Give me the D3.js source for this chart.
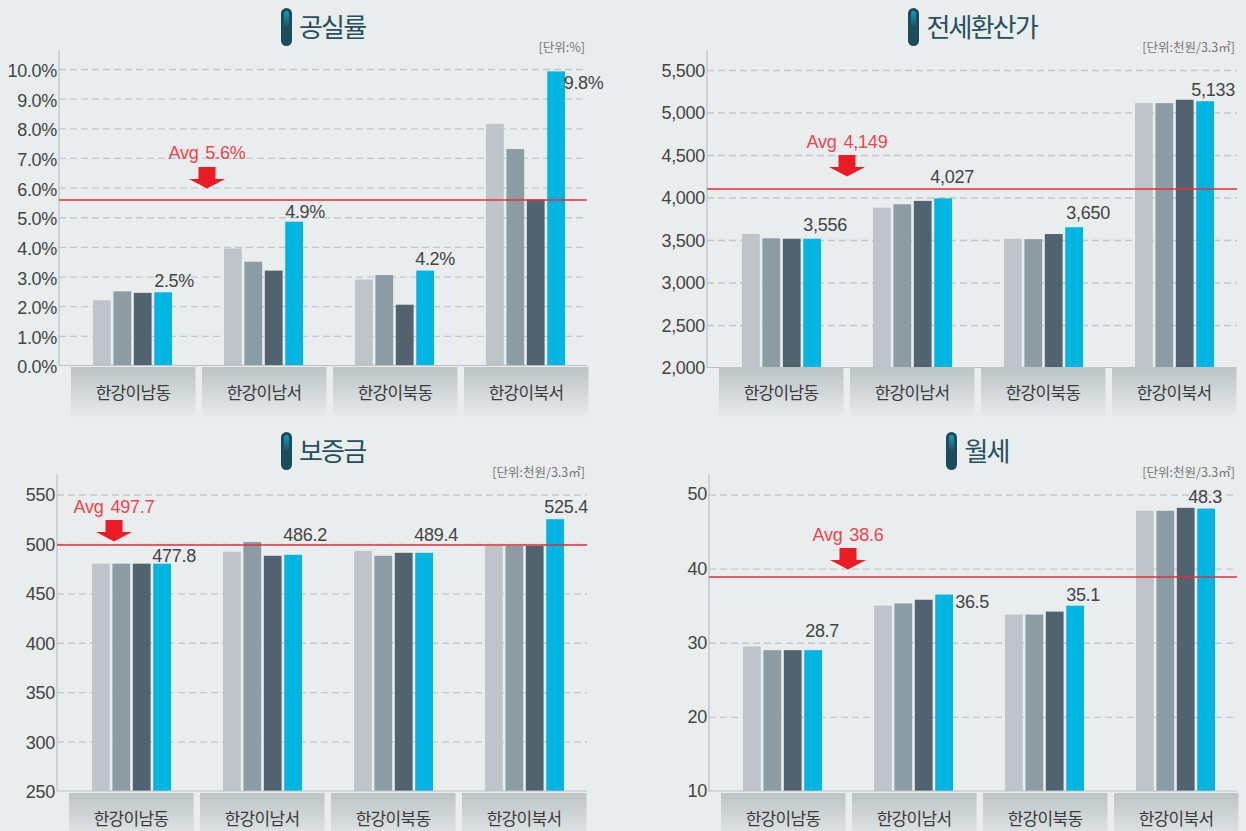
<!DOCTYPE html>
<html><head><meta charset="utf-8">
<script src="https://cdn.jsdelivr.net/npm/d3@7"></script>
<style>
html,body{margin:0;padding:0;background:#e9edee;overflow:hidden}
svg{display:block}
text{font-family:"Liberation Sans","Noto Sans CJK KR",sans-serif}
.kr{font-family:"Noto Sans CJK KR",sans-serif}
</style></head><body>
<svg id="c" width="1246" height="831"></svg>
<script>
const categories = ["한강이남동","한강이남서","한강이북동","한강이북서"];
const titles = ["공실률","전세환산가","보증금","월세"];
const units = ["[단위:%]","[단위:천원/3.3㎡]","[단위:천원/3.3㎡]","[단위:천원/3.3㎡]"];

const vacancy = [[2.2,2.5,2.45,2.47],[3.95,3.5,3.2,4.85],[2.9,3.05,2.05,3.2],[8.15,7.3,5.6,9.92]];
const rentEq  = [[3570,3520,3515,3515],[3880,3920,3960,3990],[3515,3510,3570,3650],[5110,5110,5150,5133]];
const deposit = [[480,480,480,480],[492,502,488,489],[493,488,491,491],[498,498,498,525]];
const monthly = [[29.5,29,29,29],[35,35.3,35.8,36.5],[33.8,33.8,34.2,35],[47.8,47.8,48.2,48.1]];

const vacancyTicks = [0,1,2,3,4,5,6,7,8,9,10];
const rentEqTicks  = [2000,2500,3000,3500,4000,4500,5000,5500];
const depositTicks = [250,300,350,400,450,500,550];
const monthlyTicks = [10,20,30,40,50];

const avgLines  = [5.58,4100,498.5,38.9];
const avgLabels = ["Avg 5.6%","Avg 4,149","Avg 497.7","Avg 38.6"];
const vacancyLabels = ["2.5%","4.9%","4.2%","9.8%"];
const rentEqLabels  = ["3,556","4,027","3,650","5,133"];
const depositLabels = ["477.8","486.2","489.4","525.4"];
const monthlyLabels = ["28.7","36.5","35.1","48.3"];

const barColors = ["#bdc4ca","#8c9ca5","#50636e","#00b5e2"];
const bg = "#e9edee";

// layout of each panel (pixels, not data)
const panels = [
 {values:vacancy,ticks:vacancyTicks,labels:vacancyLabels,fmt:d=>d.toFixed(1)+"%",dom:[0,10],
  axisX:59,right:587,top:50,y0:365.5,y1:69,bar0:93,box0:71,boxY:367,tickDy:1,
  pill:281,titleX:299,titleY:37,unitEnd:585,unitY:52,
  arrowX:207,arrowTop:167,avgBase:159,
  lab:[[11,-5],[11,-4],[10,-6],[27.5,18]]},
 {values:rentEq,ticks:rentEqTicks,labels:rentEqLabels,fmt:d3.format(","),dom:[2000,5500],
  axisX:707,right:1237,top:50,y0:367.5,y1:70,bar0:742,box0:719,boxY:367,tickDy:0,
  pill:908,titleX:926.5,titleY:37,unitEnd:1235,unitY:52,
  arrowX:847,arrowTop:155,avgBase:148,
  lab:[[13,-8],[9,-15],[14,-8],[8,-5]]},
 {values:deposit,ticks:depositTicks,labels:depositLabels,fmt:d=>d,dom:[250,550],
  axisX:57,right:587,top:474,y0:791,y1:494.5,bar0:92,box0:69,boxY:793,tickDy:0,
  pill:281,titleX:299,titleY:461,unitEnd:585,unitY:477,
  arrowX:114,arrowTop:520,avgBase:513,
  lab:[[12,-2],[12,-14],[12,-12],[11,-6]]},
 {values:monthly,ticks:monthlyTicks,labels:monthlyLabels,fmt:d=>d,dom:[10,50],
  axisX:709,right:1237,top:474,y0:791,y1:494.5,bar0:743,box0:721,boxY:793,tickDy:-1,
  pill:946,titleX:964.5,titleY:461,unitEnd:1235,unitY:477,
  arrowX:848,arrowTop:548,avgBase:541,
  lab:[[9,-13],[28,13],[8,-5],[-1,-6]]}
];

const svg = d3.select("#c");
svg.append("rect").attr("width",1246).attr("height",831).attr("fill",bg);
const defs = svg.append("defs");
const boxG = defs.append("linearGradient").attr("id","boxG").attr("x1",0).attr("y1",0).attr("x2",0).attr("y2",1);
boxG.append("stop").attr("offset",0).attr("stop-color","#bcc3c6");
boxG.append("stop").attr("offset",1).attr("stop-color","#e6eaeb");
const pillG = defs.append("linearGradient").attr("id","pillG").attr("x1",0).attr("y1",0).attr("x2",0).attr("y2",1);
pillG.append("stop").attr("offset",0).attr("stop-color","#0f9fc0");
pillG.append("stop").attr("offset",.55).attr("stop-color","#1b6f86");
pillG.append("stop").attr("offset",1).attr("stop-color","#1b6f86").attr("stop-opacity",0);

panels.forEach((p,pi)=>{
  const g = svg.append("g");
  const y = d3.scaleLinear().domain(p.dom).range([p.y0,p.y1]);
  const x = d3.scaleBand().domain(categories).range([0,524]).paddingInner(0).paddingOuter(0);
  const sub = d3.scaleBand().domain(d3.range(4)).range([0,79]).paddingInner(0.13).paddingOuter(0);

  // grid + tick labels
  const ax = g.append("g").attr("transform",`translate(${p.axisX},0)`)
    .call(d3.axisLeft(y).tickValues(p.ticks).tickFormat(p.fmt).tickSize(0).tickPadding(2));
  ax.select(".domain").remove();
  ax.selectAll("text").attr("font-size",18).attr("fill","#444").attr("letter-spacing","-0.3").attr("dy","0.36em").attr("y",p.tickDy);
  ax.selectAll(".tick").filter(d=>d!==p.dom[0]).append("line")
    .attr("x1",0).attr("x2",p.right-p.axisX)
    .attr("stroke","#c4c8ca").attr("stroke-width",1.3).attr("stroke-dasharray","7 4");

  // bars
  const grp = g.selectAll(".grp").data(p.values).join("g")
    .attr("transform",(d,i)=>`translate(${p.bar0+x(categories[i])},0)`);
  grp.selectAll("rect").data(d=>d).join("rect")
    .attr("x",(d,i)=>sub(i)).attr("width",sub.bandwidth())
    .attr("y",d=>y(d)).attr("height",d=>p.y0-y(d))
    .attr("fill",(d,i)=>barColors[i]);

  // axis lines
  g.append("path").attr("d",`M${p.axisX},${p.top}V${p.y0}H${p.right}`)
    .attr("fill","none").attr("stroke","#bcc0c3").attr("stroke-width",1.2);

  // category boxes
  const boxes = g.selectAll(".box").data(categories).join("g")
    .attr("transform",d=>`translate(${p.box0+x(d)},${p.boxY})`);
  boxes.append("rect").attr("width",124.5).attr("height",50).attr("fill","url(#boxG)");
  boxes.append("text").attr("class","kr").attr("x",62).attr("y",32).attr("text-anchor","middle")
    .attr("font-size",17).attr("fill","#3a3a3a").attr("letter-spacing","-0.7").text(d=>d);

  // average line
  const ay = Math.round(y(avgLines[pi]));
  g.append("line").attr("x1",p.axisX).attr("x2",p.right).attr("y1",ay).attr("y2",ay)
    .attr("stroke","#ee2a33").attr("stroke-width",1.6);
  g.append("text").attr("x",p.arrowX).attr("y",p.avgBase).attr("text-anchor","middle")
    .attr("font-size",18).attr("fill","#f0444c").attr("word-spacing","2").attr("letter-spacing","-0.2").text(avgLabels[pi]);
  const a=p.arrowX,t=p.arrowTop;
  g.append("path").attr("d",`M${a-8.5},${t}h17v12h9.5l-18,9.5l-18,-9.5h9.5z`).attr("fill","#ed1c24");

  // value labels
  p.labels.forEach((s,i)=>{
    const v=p.values[i][3];
    g.append("text")
      .attr("x",p.bar0+x(categories[i])+sub(3)+sub.bandwidth()/2+p.lab[i][0])
      .attr("y",y(v)+p.lab[i][1])
      .attr("text-anchor","middle").attr("font-size",18).attr("fill","#444").attr("letter-spacing","-0.3").text(s);
  });

  // title
  const py=p.titleY-29;
  g.append("rect").attr("x",p.pill).attr("y",py).attr("width",11).attr("height",38).attr("rx",5.5).attr("fill","#1c4c5c");
  g.append("rect").attr("x",p.pill+3).attr("y",py+3).attr("width",5).attr("height",17).attr("rx",2.5).attr("fill","url(#pillG)");
  g.append("text").attr("class","kr").attr("x",p.titleX).attr("y",p.titleY)
    .attr("font-size",26).attr("fill","#27505e").attr("letter-spacing","-1.8").text(titles[pi]);
  g.append("text").attr("class","kr").attr("x",p.unitEnd).attr("y",p.unitY).attr("text-anchor","end")
    .attr("font-size",12.5).attr("fill","#777").attr("letter-spacing","0").text(units[pi]);
});
</script></body></html>
